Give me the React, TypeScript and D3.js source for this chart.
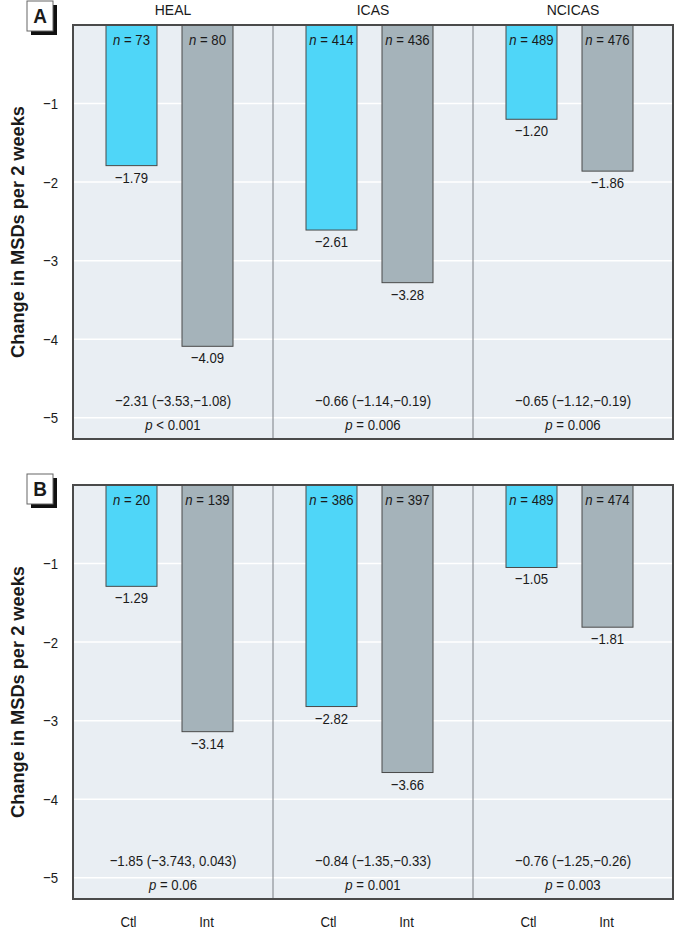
import React from "react";
import * as d3 from "d3";

const groups = ["HEAL", "ICAS", "NCICAS"];
const arms = ["Ctl", "Int"];
const panels = ["A", "B"];

const ctlA = [-1.79, -2.61, -1.2];
const intA = [-4.09, -3.28, -1.86];
const nCtlA = [73, 414, 489];
const nIntA = [80, 436, 476];
const statA = ["−2.31 (−3.53,−1.08)", "−0.66 (−1.14,−0.19)", "−0.65 (−1.12,−0.19)"];
const pA = ["< 0.001", "= 0.006", "= 0.006"];

const ctlB = [-1.29, -2.82, -1.05];
const intB = [-3.14, -3.66, -1.81];
const nCtlB = [20, 386, 489];
const nIntB = [139, 397, 474];
const statB = ["−1.85 (−3.743, 0.043)", "−0.84 (−1.35,−0.33)", "−0.76 (−1.25,−0.26)"];
const pB = ["= 0.06", "= 0.001", "= 0.003"];

const yTicks = [-1, -2, -3, -4, -5];
const yTitle = "Change in MSDs per 2 weeks";

const FONT = "'Liberation Sans', Arial, sans-serif";
const SX = 0.85;
const FS = 15.5;
const CTL = "#4fd6f8";
const INT = "#a5b3ba";
const BG = "#e9eef3";
const EDGE = "#4a4a4a";
const INK = "#1a1a1a";

const fmt = (v: number) => "−" + Math.abs(v).toFixed(2);

function T({
  x,
  y,
  anchor = "middle",
  size = FS,
  weight = "normal",
  sx = SX,
  children,
}: {
  x: number;
  y: number;
  anchor?: string;
  size?: number;
  weight?: string;
  sx?: number;
  children: React.ReactNode;
}) {
  return (
    <text
      transform={`translate(${x},${y}) scale(${sx},1)`}
      textAnchor={anchor}
      fontSize={size}
      fontWeight={weight}
      fontFamily={FONT}
      fill={INK}
    >
      {children}
    </text>
  );
}

type PanelData = {
  letter: string;
  ctl: number[];
  int: number[];
  nCtl: number[];
  nInt: number[];
  stat: string[];
  p: string[];
  top: number;
  boxY: number;
  showGroups: boolean;
  showArms: boolean;
};

const panelData: PanelData[] = [
  { letter: panels[0], ctl: ctlA, int: intA, nCtl: nCtlA, nInt: nIntA, stat: statA, p: pA, top: 25, boxY: 1, showGroups: true, showArms: false },
  { letter: panels[1], ctl: ctlB, int: intB, nCtl: nCtlB, nInt: nIntB, stat: statB, p: pB, top: 485, boxY: 474, showGroups: false, showArms: true },
];

const LEFT = 73;
const RIGHT = 673;
const H = 414;

function Panel({ d }: { d: PanelData }) {
  const x = d3.scaleBand().domain(groups).range([LEFT, RIGHT]).padding(0);
  const xi = d3.scaleBand().domain(arms).range([33, 160]).paddingInner(25 / 76).paddingOuter(0);
  const y = d3.scaleLinear().domain([0, -5.27]).range([d.top, d.top + H]);
  const bottom = d.top + H;
  return (
    <g>
      <rect x={LEFT} y={d.top} width={RIGHT - LEFT} height={H} fill={BG} />
      {yTicks.map((t) => (
        <line key={t} x1={LEFT} x2={RIGHT} y1={y(t)} y2={y(t)} stroke="#ffffff" strokeWidth={1.5} />
      ))}
      {groups.slice(1).map((g) => (
        <line key={g} x1={x(g)!} x2={x(g)!} y1={d.top} y2={bottom} stroke="#7a7f84" strokeWidth={1} />
      ))}
      {groups.map((g, i) => {
        const gx = x(g)!;
        const gc = gx + x.bandwidth() / 2;
        const vals = [d.ctl[i], d.int[i]];
        const ns = [d.nCtl[i], d.nInt[i]];
        return (
          <g key={g}>
            {arms.map((a, j) => {
              const bx = gx + xi(a)!;
              const bw = xi.bandwidth();
              const cx = bx + bw / 2;
              return (
                <g key={a}>
                  <rect x={bx} y={y(0)} width={bw} height={y(vals[j]) - y(0)} fill={j === 0 ? CTL : INT} stroke={EDGE} strokeWidth={1} />
                  <T x={cx} y={d.top + 20}>
                    <tspan fontStyle="italic">n</tspan> = {ns[j]}
                  </T>
                  <T x={cx} y={y(vals[j]) + 17}>{fmt(vals[j])}</T>
                  {d.showArms && (
                    <T x={cx - (j === 0 ? 3 : 1)} y={bottom + 28}>
                      {a}
                    </T>
                  )}
                </g>
              );
            })}
            <T x={gc} y={bottom - 33}>{d.stat[i]}</T>
            <T x={gc} y={bottom - 9}>
              <tspan fontStyle="italic">p</tspan> {d.p[i]}
            </T>
            {d.showGroups && (
              <T x={gc} y={d.top - 10} sx={0.9}>
                {g}
              </T>
            )}
          </g>
        );
      })}
      <rect x={LEFT} y={d.top} width={RIGHT - LEFT} height={H} fill="none" stroke={EDGE} strokeWidth={2} />
      {yTicks.map((t) => (
        <T key={t} x={58} y={y(t) + 5.5} anchor="end">
          {"−" + Math.abs(t)}
        </T>
      ))}
      <text
        transform={`translate(24,${d.top + H / 2}) rotate(-90)`}
        textAnchor="middle"
        fontSize={19}
        fontWeight="bold"
        fontFamily={FONT}
        fill={INK}
        textLength={252}
        lengthAdjust="spacingAndGlyphs"
      >
        {yTitle}
      </text>
      <rect x={31} y={d.boxY + 4} width={26} height={30} fill="#111" />
      <rect x={27} y={d.boxY} width={26} height={30} fill="#fff" stroke="#666" strokeWidth={1} />
      <T x={40} y={d.boxY + 22} size={20} weight="bold" sx={0.95}>
        {d.letter}
      </T>
    </g>
  );
}

export default function App() {
  return (
    <svg width={676} height={930} style={{ position: "absolute", left: 0, top: 0, background: "#fff" }}>
      <rect width={676} height={930} fill="#fff" />
      {panelData.map((d) => (
        <Panel key={d.letter} d={d} />
      ))}
    </svg>
  );
}
